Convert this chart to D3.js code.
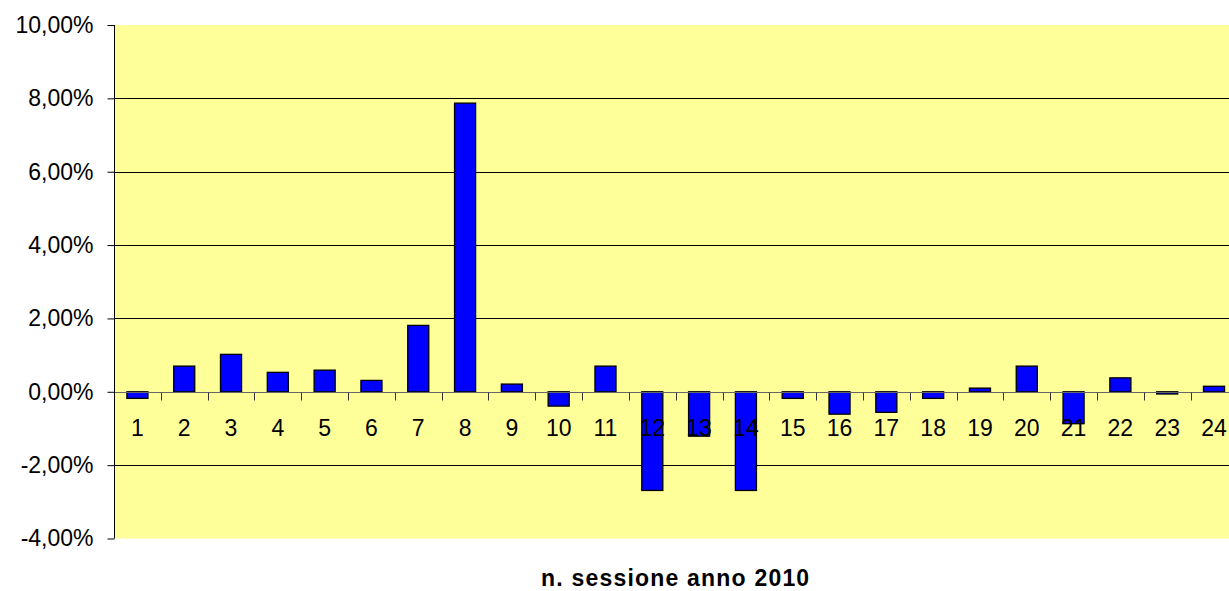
<!DOCTYPE html>
<html>
<head>
<meta charset="utf-8">
<script src="https://cdn.jsdelivr.net/npm/d3@7"></script>
<style>
  body { margin: 0; background: #fff; }
  svg { display: block; font-family: "Liberation Sans", Arial, sans-serif; }
</style>
</head>
<body>
<script>
const w = 1229
const h = 591

// session numbers and percent change per session
const sessions = ['1','2','3','4','5','6','7','8','9','10','11','12','13','14','15','16','17','18','19','20','21','22','23','24']
const changes = [-0.18, 0.70, 1.02, 0.53, 0.59, 0.31, 1.81, 7.87, 0.21, -0.39, 0.70, -2.69, -1.21, -2.69, -0.18, -0.61, -0.56, -0.18, 0.10, 0.70, -0.87, 0.38, -0.06, 0.15]
const yTicks = [10, 8, 6, 4, 2, 0, -2, -4]
const xTitle = 'n. sessione anno 2010'

const plotLeft = 114
const plotRight = 1237.4
const plotTop = 25
const plotBottom = 538.5

const fmt = function (d) { return d.toFixed(2).replace('.', ',') + '%' }

const xScale = d3.scaleBand()
    .domain(sessions)
    .range([plotLeft, plotRight])
    .paddingInner(0.55)
    .paddingOuter(0.275)

const yScale = d3.scaleLinear()
    .domain([-4, 10])
    .range([plotBottom, plotTop])

const svg = d3.select('body')
    .append('svg')
    .attr('width', w)
    .attr('height', h)

// plot background
svg.append('rect')
    .attr('x', plotLeft)
    .attr('y', plotTop)
    .attr('width', plotRight - plotLeft)
    .attr('height', plotBottom - plotTop)
    .attr('fill', '#ffff99')

// gridlines
svg.append('g')
    .selectAll('line')
    .data(yTicks.filter(function (d) { return d !== 0 && d !== 10 && d !== -4 }))
    .enter()
    .append('line')
    .attr('x1', plotLeft)
    .attr('x2', plotRight)
    .attr('y1', function (d) { return Math.round(yScale(d)) + 0.5 })
    .attr('y2', function (d) { return Math.round(yScale(d)) + 0.5 })
    .attr('stroke', '#000')
    .attr('stroke-width', 1)

// bars
svg.append('g')
    .selectAll('rect')
    .data(changes)
    .enter()
    .append('rect')
    .attr('x', function (d, i) { return xScale(sessions[i]) })
    .attr('width', xScale.bandwidth())
    .attr('y', function (d) { return yScale(Math.max(0, d)) })
    .attr('height', function (d) { return Math.abs(yScale(d) - yScale(0)) })
    .attr('fill', '#0000ff')
    .attr('stroke', '#000')
    .attr('stroke-width', 1.3)

// zero axis with category ticks
const zeroY = Math.round(yScale(0)) + 0.5
svg.append('line')
    .attr('x1', plotLeft)
    .attr('x2', plotRight)
    .attr('y1', zeroY)
    .attr('y2', zeroY)
    .attr('stroke', '#666')
    .attr('stroke-width', 1)

const gap = (xScale.step() - xScale.bandwidth()) / 2
svg.append('g')
    .selectAll('line')
    .data(sessions.slice(1))
    .enter()
    .append('line')
    .attr('x1', function (d) { return Math.round(xScale(d) - gap) + 0.5 })
    .attr('x2', function (d) { return Math.round(xScale(d) - gap) + 0.5 })
    .attr('y1', zeroY)
    .attr('y2', zeroY + 8)
    .attr('stroke', '#333')

// category labels
svg.append('g')
    .selectAll('text')
    .data(sessions)
    .enter()
    .append('text')
    .attr('x', function (d) { return xScale(d) + xScale.bandwidth() / 2 })
    .attr('y', 436)
    .attr('text-anchor', 'middle')
    .attr('font-size', 23)
    .attr('fill', '#000')
    .text(function (d) { return d })

// y axis
const yAxisGen = d3.axisLeft(yScale)
    .tickValues(yTicks)
    .tickSize(7)
    .tickPadding(14)
    .tickFormat(fmt)

const yAxis = svg.append('g')
    .attr('transform', `translate(${plotLeft + 0.5},0)`)
    .call(yAxisGen)

yAxis.select('.domain').attr('stroke', '#000').attr('d', `M0,${plotTop}V${plotBottom}`)
yAxis.selectAll('.tick line').attr('stroke', '#000')
yAxis.selectAll('.tick text')
    .attr('font-size', 23)
    .attr('font-family', '"Liberation Sans", Arial, sans-serif')
    .attr('fill', '#000')

// axis title
svg.append('text')
    .attr('x', (plotLeft + plotRight) / 2)
    .attr('y', 586)
    .attr('text-anchor', 'middle')
    .attr('font-size', 23)
    .attr('font-weight', 'bold')
    .attr('letter-spacing', 1.2)
    .attr('fill', '#000')
    .text(xTitle)
</script>
</body>
</html>
